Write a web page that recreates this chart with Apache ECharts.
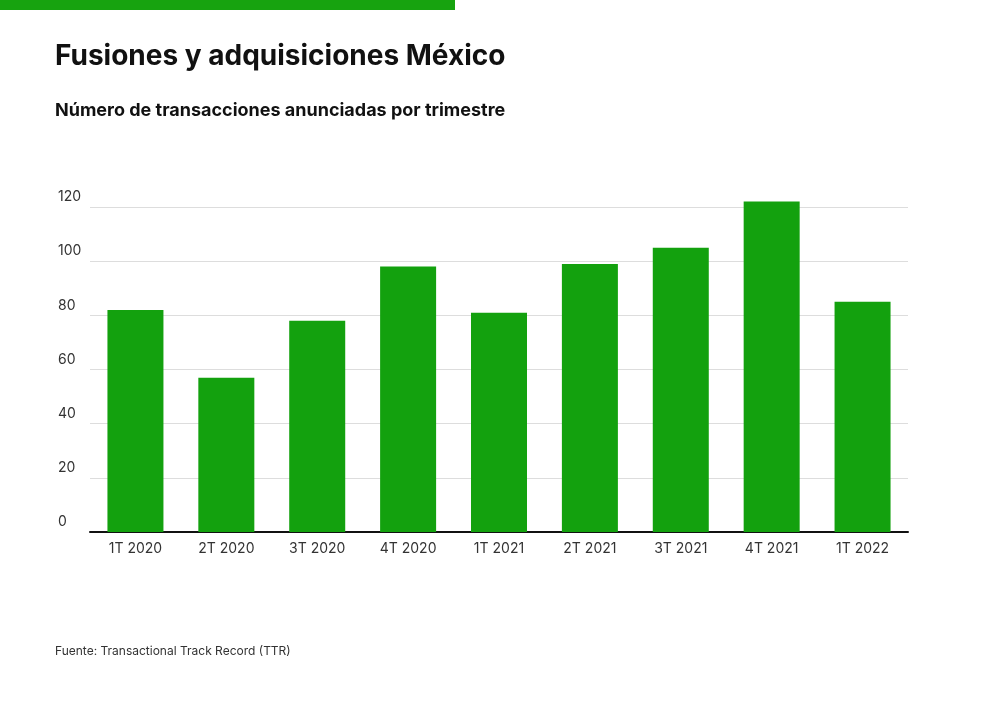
<!DOCTYPE html>
<html><head><meta charset="utf-8">
<script src="https://cdn.jsdelivr.net/npm/echarts@6/dist/echarts.min.js"></script>
<style>html,body{margin:0;padding:0;background:#fff}#c{width:1000px;height:701px}</style>
</head><body><div id="c"></div>
<script>
const categories = ['1T 2020','2T 2020','3T 2020','4T 2020','1T 2021','2T 2021','3T 2021','4T 2021','1T 2022'];
const deals = [82, 57, 78, 98, 81, 99, 105, 122, 85];
const font = 'Inter, "Noto Sans", sans-serif';

const chart = echarts.init(document.getElementById('c'));
chart.setOption({
  backgroundColor: '#fff',
  animation: false,
  graphic: [
    { type: 'rect', shape: { x: 0, y: 0, width: 455, height: 10 }, style: { fill: '#17a30f' } },
    { type: 'text', left: 55, top: 43, style: { text: 'Fusiones y adquisiciones México', font: 'bold 28px ' + font, fill: '#111', letterSpacing: 0 } },
    { type: 'text', left: 55, top: 102, style: { text: 'Número de transacciones anunciadas por trimestre', font: 'bold 18px ' + font, fill: '#111', letterSpacing: 0.4 } },
    { type: 'text', left: 55, top: 645, style: { text: 'Fuente: Transactional Track Record (TTR)', font: '12px ' + font, fill: '#333' } }
  ],
  grid: { left: 90, right: 92, top: 207, bottom: 169 },
  xAxis: {
    type: 'category', data: categories,
    axisLine: { lineStyle: { color: '#111', width: 2 } },
    axisTick: { show: false },
    axisLabel: { color: '#333', fontSize: 14, fontFamily: font, margin: 10 }
  },
  yAxis: {
    type: 'value', min: 0, max: 120, interval: 20,
    axisLabel: { color: '#333', fontSize: 14, fontFamily: font, align: 'left', margin: 32, verticalAlign: 'bottom', lineHeight: 20 },
    splitLine: { lineStyle: { color: '#ddd' } }
  },
  series: [{
    type: 'bar', data: deals, barWidth: 56, clip: false,
    itemStyle: { color: '#13a10e' }
  }]
});
</script></body></html>
